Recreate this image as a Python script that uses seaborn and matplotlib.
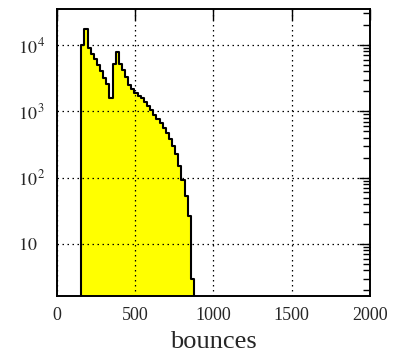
import numpy as np
import pandas as pd
import matplotlib
matplotlib.use("Agg")
import matplotlib.pyplot as plt
import seaborn as sns
from matplotlib.ticker import LogLocator, NullFormatter, FixedLocator

# ---- data ----
bin_left = [155, 175, 195, 215, 235, 255, 275, 295, 315, 335,
            355, 375, 395, 415, 435, 455, 475, 495, 515, 535,
            555, 575, 595, 615, 635, 655, 675, 695, 715, 735,
            755, 775, 795, 815, 835, 855]
counts = [10000, 17400, 8900, 7400, 6200, 5000, 4000, 3200, 2600, 1600,
          5200, 7900, 5200, 4200, 3300, 2500, 2150, 1900, 1700, 1580,
          1400, 1200, 1050, 890, 780, 660, 560, 470, 380, 300,
          225, 150, 91, 52, 26, 3]
bin_width = 20
x_ticks = [0, 500, 1000, 1500, 2000]
y_ticks = [10, 100, 1000, 10000]
y_tick_labels = [r"$10$", r"$10^{\,2}$", r"$10^{\,3}$", r"$10^{\,4}$"]
x_label = "bounces"

edges = list(bin_left) + [bin_left[-1] + bin_width]
centers = [b + bin_width / 2 for b in bin_left]
df = pd.DataFrame({"bounces": centers, "n": counts})

sns.set_style("white")
plt.rcParams["font.family"] = ["Liberation Serif", "DejaVu Serif"]
plt.rcParams["mathtext.fontset"] = "stix"

fig = plt.figure(figsize=(4.02, 3.55), dpi=100)
ax = fig.add_axes([57 / 402, 1 - 296 / 355, (370 - 57) / 402, (296 - 9) / 355])

sns.histplot(data=df, x="bounces", weights="n", bins=edges, element="step",
             fill=True, color="#ffff00", edgecolor="black", linewidth=1.5,
             alpha=1.0, ax=ax)

ax.set_yscale("log")
ax.set_xlim(0, 2000)
ax.set_ylim(1.64, 35000)

ax.xaxis.set_major_locator(FixedLocator(x_ticks))
ax.set_xticklabels([str(t) for t in x_ticks], fontsize=13)
ax.yaxis.set_major_locator(FixedLocator(y_ticks))
ax.set_yticklabels(y_tick_labels, fontsize=13)
ax.yaxis.set_minor_locator(LogLocator(base=10, subs=np.arange(2, 10), numticks=20))
ax.yaxis.set_minor_formatter(NullFormatter())

ax.tick_params(axis="both", which="both", direction="in", top=True, right=True,
               color="black", width=1.0)
ax.tick_params(axis="both", which="major", length=8)
ax.tick_params(axis="y", which="minor", length=5)
ax.tick_params(axis="x", which="major", pad=8)
ax.tick_params(axis="y", which="major", pad=28)
for lab in ax.get_yticklabels():
    lab.set_horizontalalignment("left")

ax.grid(True, which="major", color="black", linestyle=(0, (1.2, 2.8)), linewidth=0.9)
ax.set_axisbelow(False)

for s in ax.spines.values():
    s.set_color("black")
    s.set_linewidth(1.4)

ax.set_ylabel("")
ax.set_xlabel(x_label, fontsize=19, labelpad=5)

fig.savefig("out.png", dpi=100)
